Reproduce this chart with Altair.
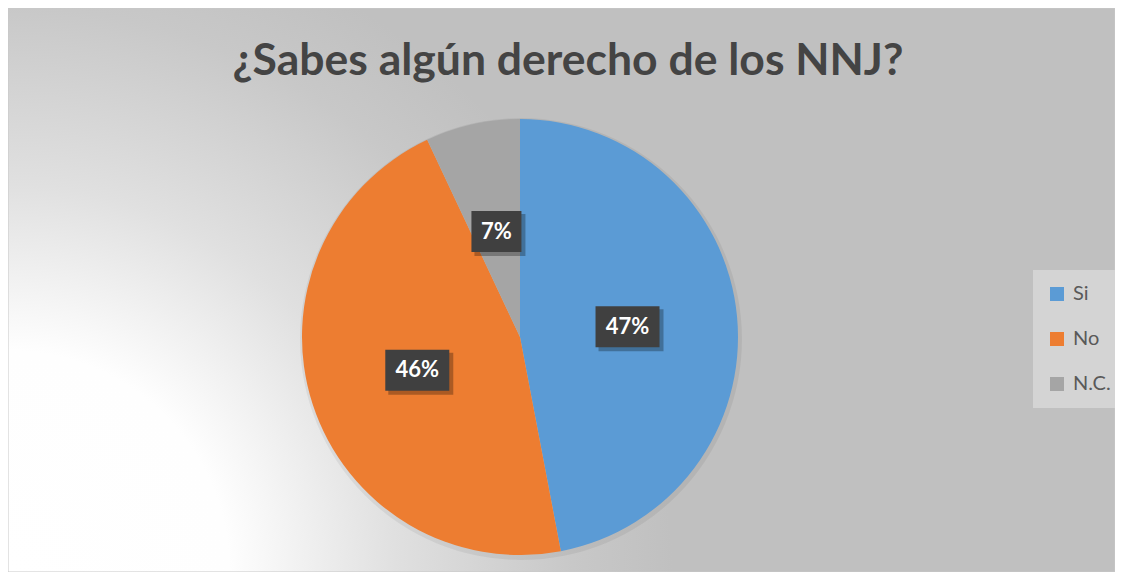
import altair as alt
import pandas as pd

title_text = "¿Sabes algún derecho de los NNJ?"
categories = ["Si", "No", "N.C."]
values = [47, 46, 7]
colors = ["#5B9BD5", "#ED7D31", "#A5A5A5"]

W, H = 1107, 564
CX, CY, R = 512, 329, 218
LR = 108

df = pd.DataFrame({"category": categories, "value": values, "idx": list(range(len(categories)))})

one = pd.DataFrame({"d": [0]})

# Vega maps radial gradients onto a square (side = max(w, h)) centred on the box;
# the bottom-left corner of the box sits at y = (H + (W - H) / 2) / W in that square.
gy = (H + (W - H) / 2) / W

bg = alt.Chart(one).mark_rect(
    fill=alt.Gradient(
        gradient="radial",
        x1=0, y1=gy, r1=0,
        x2=0, y2=gy, r2=1,
        stops=[
            alt.GradientStop(color="#ffffff", offset=0),
            alt.GradientStop(color="#fefefe", offset=0.20),
            alt.GradientStop(color="#f0f0f0", offset=0.27),
            alt.GradientStop(color="#e0e0e0", offset=0.35),
            alt.GradientStop(color="#d4d4d4", offset=0.43),
            alt.GradientStop(color="#c8c8c8", offset=0.51),
            alt.GradientStop(color="#c0c0c0", offset=0.60),
            alt.GradientStop(color="#c0c0c0", offset=1),
        ],
    ),
    stroke="#c8c8c8",
    strokeWidth=1,
).encode(x=alt.value(0), x2=alt.value(W), y=alt.value(0), y2=alt.value(H))

title = alt.Chart(pd.DataFrame({"t": [title_text]})).mark_text(
    font="Lato", fontWeight="bold", fontSize=44.5, color="#444444",
    align="center", baseline="alphabetic",
).encode(text="t:N", x=alt.value(560), y=alt.value(67))

shadow = alt.Chart(one).mark_arc(
    outerRadius=R + 3, color="#000000", opacity=0.06
).encode(theta=alt.value(6.2832), x=alt.value(CX + 1), y=alt.value(CY + 2))

pie = alt.Chart(df).mark_arc(outerRadius=R).encode(
    theta=alt.Theta("value:Q", stack=True),
    color=alt.Color(
        "category:N",
        scale=alt.Scale(domain=categories, range=colors),
        sort=categories,
        legend=alt.Legend(
            title=None,
            orient="none",
            legendX=1025,
            legendY=262,
            padding=14,
            fillColor="#d4d4d4",
            symbolType="square",
            symbolSize=196,
            symbolStrokeWidth=0,
            labelFont="Lato",
            labelFontSize=20,
            labelColor="#595959",
            labelOffset=6,
            rowPadding=25,
        ),
    ),
    order=alt.Order("idx:Q"),
    x=alt.value(CX),
    y=alt.value(CY),
)

base_lbl = alt.Chart(df).transform_joinaggregate(
    total="sum(value)"
).transform_window(
    cum="sum(value)", sort=[alt.SortField("idx")], frame=[None, 0]
).transform_calculate(
    mid=f"(datum.cum - datum.value/2)/datum.total*2*PI",
    lx=f"{CX} + {LR}*sin(datum.mid)",
    ly=f"{CY} - {LR}*cos(datum.mid)",
    label="format(datum.value/datum.total, '.0%')",
    bw="22 + 14*length(datum.label)",
    bx1="datum.lx - datum.bw/2",
    bx2="datum.lx + datum.bw/2",
    by1="datum.ly - 20.5",
    by2="datum.ly + 20.5",
    sx1="datum.bx1 + 3",
    sx2="datum.bx2 + 4",
    sy1="datum.by1 + 3",
    sy2="datum.by2 + 4",
)

box_shadow = base_lbl.mark_rect(color="#000000", opacity=0.28).encode(
    x=alt.X("sx1:Q", scale=None, axis=None),
    x2="sx2:Q",
    y=alt.Y("sy1:Q", scale=None, axis=None),
    y2="sy2:Q",
)

box = base_lbl.mark_rect(color="#404040").encode(
    x=alt.X("bx1:Q", scale=None, axis=None),
    x2="bx2:Q",
    y=alt.Y("by1:Q", scale=None, axis=None),
    y2="by2:Q",
)

txt = base_lbl.mark_text(
    font="Lato", fontWeight="bold", fontSize=22, color="#ffffff",
    align="center", baseline="middle",
).encode(
    x=alt.X("lx:Q", scale=None, axis=None),
    y=alt.Y("ly:Q", scale=None, axis=None),
    text="label:N",
)

chart = alt.layer(bg, title, shadow, pie, box_shadow, box, txt).properties(
    width=W, height=H, autosize=alt.AutoSizeParams(type="none"), padding=0,
).configure_view(strokeWidth=0)

chart.save("out.html", embed_options={"renderer": "svg", "actions": False})
